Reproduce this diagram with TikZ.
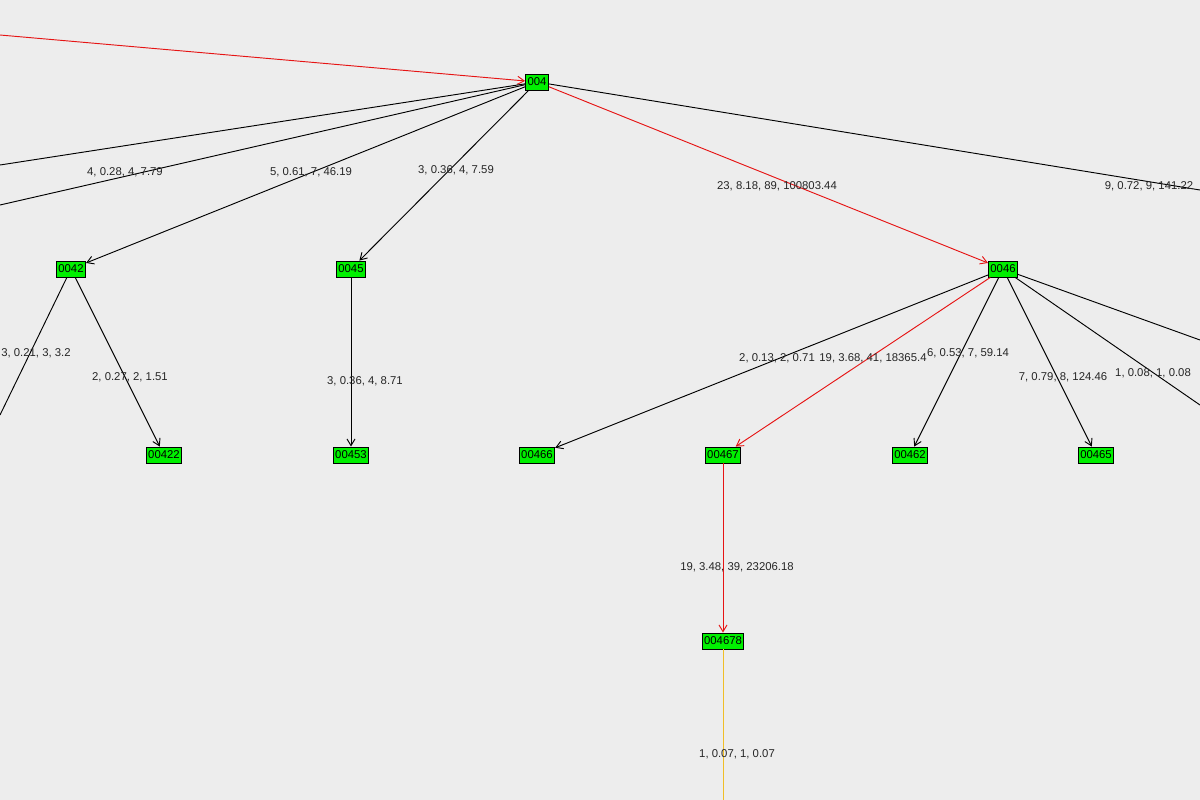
\documentclass[tikz,border=0pt]{standalone}
\usepackage{fontspec}
\setmainfont{Liberation Sans}
\usetikzlibrary{arrows.meta}
\definecolor{edgered}{RGB}{230,20,20}
\definecolor{edgegold}{RGB}{240,190,40}
\definecolor{nodegreen}{RGB}{0,240,0}
\begin{document}
\begin{tikzpicture}[x=0.75pt,y=-0.75pt,line width=0.7pt,
  nd/.style={draw=black,fill=nodegreen,inner xsep=1.5pt,inner ysep=1.5pt,font=\fontsize{8.5}{9}\selectfont,minimum height=12pt},
  lb/.style={font=\fontsize{8.5}{9}\selectfont,text=black!85,inner sep=0pt},
  ar/.style={-{Straight Barb[length=5pt,width=6pt]}},
  redl/.style={draw=edgered},
  goldl/.style={draw=edgegold}]
\fill[black!7] (0,0) rectangle (1200,800);
\useasboundingbox (0,0) rectangle (1200,800);
\node[nd] (n004) at (537,82) {004};
\node[nd] (n0042) at (71,269) {0042};
\node[nd] (n0045) at (351,269) {0045};
\node[nd] (n0046) at (1003,269) {0046};
\node[nd] (n00422) at (164,455) {00422};
\node[nd] (n00453) at (351,455) {00453};
\node[nd] (n00466) at (537,455) {00466};
\node[nd] (n00467) at (723,455) {00467};
\node[nd] (n00462) at (910,455) {00462};
\node[nd] (n00465) at (1096,455) {00465};
\node[nd] (n004678) at (723,641) {004678};
\coordinate (inA) at (0,35);
\coordinate (l1) at (0,165);
\coordinate (l2) at (0,205);
\coordinate (r1) at (1200,190);
\coordinate (l3) at (0,415);
\coordinate (r2) at (1200,340);
\coordinate (r3) at (1200,405);
\coordinate (bot) at (723,800);
\draw[ar,redl] (inA) -- (n004);
\draw (n004) -- (l1);
\draw (n004) -- (l2);
\draw (n004) -- (r1);
\draw[ar] (n004) -- (n0042);
\draw[ar] (n004) -- (n0045);
\draw[ar,redl] (n004) -- (n0046);
\draw (n0042) -- (l3);
\draw[ar] (n0042) -- (n00422);
\draw[ar] (n0045) -- (n00453);
\draw[ar] (n0046) -- (n00466);
\draw[ar,redl] (n0046) -- (n00467);
\draw[ar] (n0046) -- (n00462);
\draw[ar] (n0046) -- (n00465);
\draw (n0046) -- (r2);
\draw (n0046) -- (r3);
\draw[ar,redl] (n00467) -- (n004678);
\draw[goldl] (n004678) -- (bot);
\node[lb] (t1) at (125,172) {4, 0.28, 4, 7.79};
\node[lb] (t2) at (311,172) {5, 0.61, 7, 46.19};
\node[lb] (t3) at (456,170) {3, 0.36, 4, 7.59};
\node[lb] (t4) at (777,186) {23, 8.18, 89, 100803.44};
\node[lb] (t5) at (1149,186) {9, 0.72, 9, 141.22};
\node[lb] (t6) at (36,353) {3, 0.21, 3, 3.2};
\node[lb] (t7) at (130,377) {2, 0.27, 2, 1.51};
\node[lb] (t8) at (365,381) {3, 0.36, 4, 8.71};
\node[lb] (t9) at (777,358) {2, 0.13, 2, 0.71};
\node[lb] (t10) at (873,358) {19, 3.68, 41, 18365.4};
\node[lb] (t11) at (968,353) {6, 0.53, 7, 59.14};
\node[lb] (t12) at (1063,377) {7, 0.79, 8, 124.46};
\node[lb] (t13) at (1153,373) {1, 0.08, 1, 0.08};
\node[lb] (t14) at (737,567) {19, 3.48, 39, 23206.18};
\node[lb] (t15) at (737,754) {1, 0.07, 1, 0.07};
\end{tikzpicture}
\end{document}
